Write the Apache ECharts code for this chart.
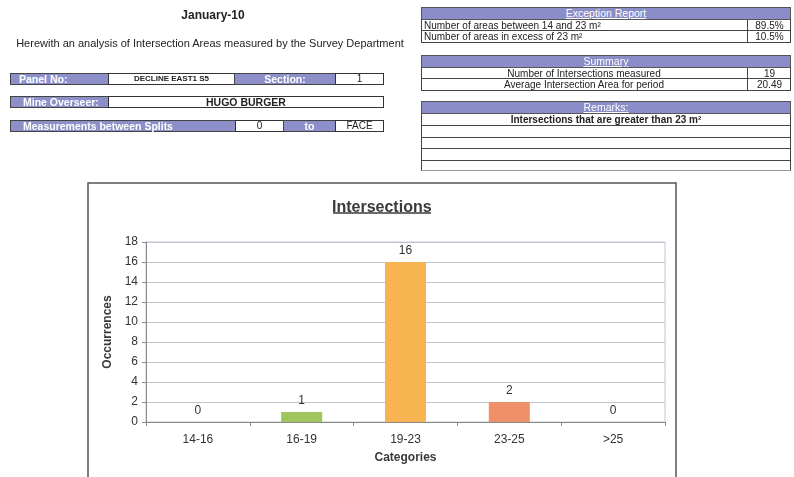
<!DOCTYPE html>
<html>
<head>
<meta charset="utf-8">
<script src="https://cdn.jsdelivr.net/npm/echarts@6/dist/echarts.min.js"></script>
<style>
  html, body { margin: 0; padding: 0; background: #fff; }
  body { width: 794px; height: 477px; position: relative; overflow: hidden;
         font-family: "Liberation Sans", Arial, sans-serif; color: #222; }
  #chart { position: absolute; left: 0; top: 0; width: 794px; height: 477px; }
  .abs { position: absolute; box-sizing: border-box; }
  .lbl { background: #8d8fc9; color: #fff; font-weight: bold; font-size: 10.5px;
         border: 1px solid #444; line-height: 10px; padding-left: 8px; }
  .val { background: #fff; border: 1px solid #333; font-size: 10px; line-height: 10px;
         text-align: center; }
  .hdr { background: #8b8dc8; color: #fff; font-size: 10.5px; text-align: center;
         border: 1px solid #555; line-height: 11px; text-decoration: underline; }
  .row { background: #fff; border: 1px solid #444; border-top: none; font-size: 10px;
         line-height: 11px; color: #222; }
</style>
</head>
<body>
<div id="chart"></div>

<div class="abs" style="left:150px;top:8px;width:126px;text-align:center;font-weight:bold;font-size:12px;">January-10</div>
<div class="abs" style="left:10px;top:37px;width:400px;text-align:center;font-size:11px;">Herewith an analysis of Intersection Areas measured by the Survey Department</div>

<!-- Panel / section row -->
<div class="abs lbl" style="left:10px;top:73px;width:99px;height:12px;">Panel No:</div>
<div class="abs val" style="left:108px;top:73px;width:127px;height:12px;font-weight:bold;font-size:8px;">DECLINE EAST1 S5</div>
<div class="abs lbl" style="left:234px;top:73px;width:102px;height:12px;text-align:center;padding-left:0;">Section:</div>
<div class="abs val" style="left:335px;top:73px;width:49px;height:12px;">1</div>

<!-- Overseer row -->
<div class="abs lbl" style="left:10px;top:96px;width:99px;height:12px;padding-left:12px;">Mine Overseer:</div>
<div class="abs val" style="left:108px;top:96px;width:276px;height:12px;font-weight:bold;font-size:10.5px;">HUGO BURGER</div>

<!-- Splits row -->
<div class="abs lbl" style="left:10px;top:120px;width:226px;height:12px;padding-left:12px;">Measurements between Splits</div>
<div class="abs val" style="left:235px;top:120px;width:49px;height:12px;">0</div>
<div class="abs lbl" style="left:283px;top:120px;width:53px;height:12px;text-align:center;padding-left:0;">to</div>
<div class="abs val" style="left:335px;top:120px;width:49px;height:12px;">FACE</div>

<!-- Exception report -->
<div class="abs hdr" style="left:421px;top:7px;width:370px;height:13px;">Exception Report</div>
<div class="abs row" style="left:421px;top:20px;width:370px;height:11px;padding-left:2px;">Number of areas between 14 and 23 m²</div>
<div class="abs" style="left:747px;top:20px;width:44px;height:11px;border-left:1px solid #444;font-size:10px;line-height:11px;text-align:center;">89.5%</div>
<div class="abs row" style="left:421px;top:31px;width:370px;height:12px;padding-left:2px;">Number of areas in excess of 23 m²</div>
<div class="abs" style="left:747px;top:31px;width:44px;height:12px;border-left:1px solid #444;font-size:10px;line-height:11px;text-align:center;">10.5%</div>

<!-- Summary -->
<div class="abs hdr" style="left:421px;top:55px;width:370px;height:13px;">Summary</div>
<div class="abs row" style="left:421px;top:68px;width:370px;height:11px;padding-right:44px;text-align:center;">Number of Intersections measured</div>
<div class="abs" style="left:747px;top:68px;width:44px;height:11px;border-left:1px solid #444;font-size:10px;line-height:11px;text-align:center;">19</div>
<div class="abs row" style="left:421px;top:79px;width:370px;height:12px;padding-right:44px;text-align:center;">Average Intersection Area for period</div>
<div class="abs" style="left:747px;top:79px;width:44px;height:12px;border-left:1px solid #444;font-size:10px;line-height:11px;text-align:center;">20.49</div>

<!-- Remarks -->
<div class="abs hdr" style="left:421px;top:101px;width:370px;height:13px;">Remarks:</div>
<div class="abs row" style="left:421px;top:114px;width:370px;height:12px;text-align:center;font-weight:bold;">Intersections that are greater than 23 m²</div>
<div class="abs row" style="left:421px;top:126px;width:370px;height:12px;"></div>
<div class="abs row" style="left:421px;top:138px;width:370px;height:11px;"></div>
<div class="abs row" style="left:421px;top:149px;width:370px;height:12px;"></div>
<div class="abs row" style="left:421px;top:161px;width:370px;height:10px;border-bottom:1px solid #999;"></div>

<script>
// Area bands (m²) and the number of intersections measured in each
const categories = ['14-16', '16-19', '19-23', '23-25', '>25'];
const occurrences = [0, 1, 16, 2, 0];
const barColors = ['#4f81bd', '#a0c55c', '#f8b450', '#f09069', '#8064a2'];
const yTicks = { min: 0, max: 18, interval: 2 };

const chart = echarts.init(document.getElementById('chart'), null, { renderer: 'canvas' });

chart.setOption({
  animation: false,
  textStyle: { fontFamily: '"Liberation Sans", Arial, sans-serif' },
  graphic: [
    { type: 'rect', shape: { x: 88, y: 183, width: 588, height: 310 },
      style: { fill: 'none', stroke: '#555', lineWidth: 1.5 }, z: -1 },
    { type: 'line', shape: { x1: 333, y1: 213, x2: 431, y2: 213 },
      style: { stroke: '#3a3a3a', lineWidth: 1.5 } }
  ],
  title: {
    text: 'Intersections',
    left: 327, top: 195,
    textStyle: { fontSize: 16, fontWeight: 'bold', color: '#3a3a3a' }
  },
  grid: {
    left: 146, right: 129, top: 242, bottom: 55,
    show: true, borderColor: '#c4c4d4', borderWidth: 1
  },
  xAxis: {
    type: 'category',
    data: categories,
    name: 'Categories',
    nameLocation: 'middle',
    nameGap: 30,
    nameTextStyle: { fontSize: 12, fontWeight: 'bold', color: '#3a3a3a' },
    axisLine: { lineStyle: { color: '#8a8a8a' } },
    axisTick: { show: true, length: 4, interval: 0, lineStyle: { color: '#8a8a8a' } },
    axisLabel: { fontSize: 12, color: '#333', margin: 12 }
  },
  yAxis: {
    type: 'value',
    min: yTicks.min, max: yTicks.max, interval: yTicks.interval,
    name: 'Occurrences',
    nameLocation: 'middle',
    nameGap: 31,
    nameTextStyle: { fontSize: 12, fontWeight: 'bold', color: '#3a3a3a' },
    axisLine: { show: true, lineStyle: { color: '#8a8a8a' } },
    axisTick: { show: true, length: 4, lineStyle: { color: '#8a8a8a' } },
    axisLabel: { fontSize: 12, color: '#333', margin: 8 },
    splitLine: { lineStyle: { color: '#c4c4d0' } }
  },
  series: [{
    type: 'bar',
    barWidth: 41,
    data: occurrences.map((v, i) => ({ value: v, itemStyle: { color: barColors[i] } })),
    label: { show: true, position: 'top', distance: 5, fontSize: 12, color: '#333' }
  }]
});
</script>
</body>
</html>
